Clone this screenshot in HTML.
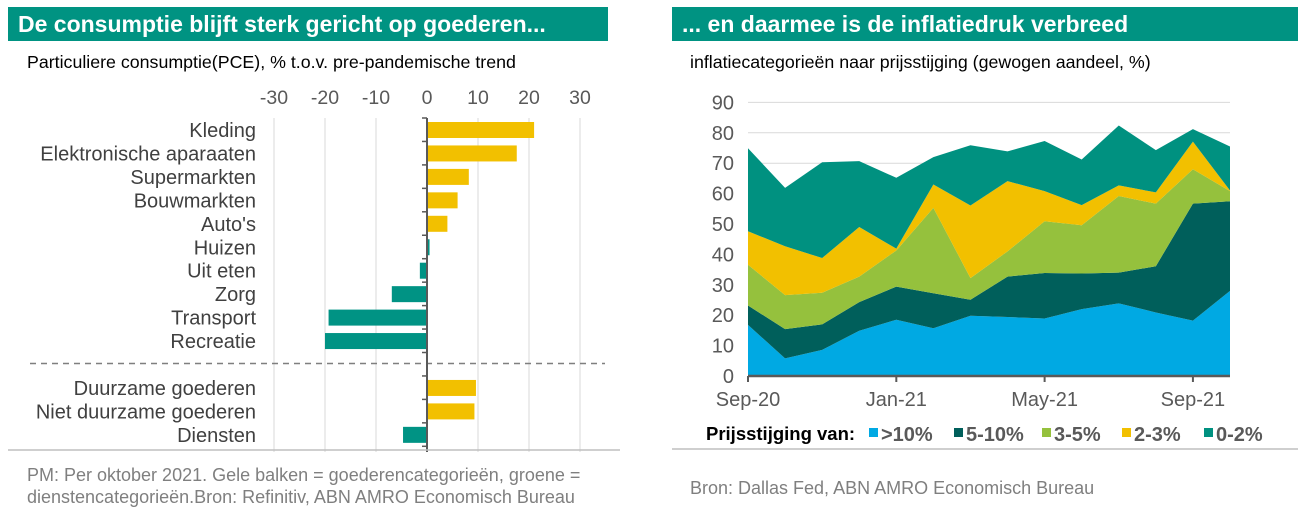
<!DOCTYPE html>
<html><head><meta charset="utf-8"><style>
body{margin:0;width:1306px;height:517px;background:#fff;font-family:"Liberation Sans",sans-serif;overflow:hidden;position:relative}
.hdr{position:absolute;top:7px;height:34px;background:#009382;color:#fff;font-weight:bold;font-size:23px;line-height:34px;padding-left:10px;box-sizing:border-box;white-space:nowrap}
.t{position:absolute;color:#000;font-size:17.8px;white-space:nowrap}
.foot{position:absolute;color:#7f7f7f;font-size:18px;line-height:22px;white-space:nowrap}
</style></head><body>
<div class="hdr" style="left:8px;width:600px">De consumptie blijft sterk gericht op goederen...</div>
<div class="hdr" style="left:672px;width:626px">... en daarmee is de inflatiedruk verbreed</div>
<div class="t" style="left:27px;top:52px">Particuliere consumptie(PCE), % t.o.v. pre-pandemische trend</div>
<div class="t" style="left:690px;top:52px">inflatiecategorieën naar prijsstijging (gewogen aandeel, %)</div>
<div class="foot" style="left:27px;top:464px">PM: Per oktober 2021. Gele balken = goederencategorieën, groene =<br>dienstencategorieën.Bron: Refinitiv, ABN AMRO Economisch Bureau</div>
<div class="foot" style="left:690px;top:477px">Bron: Dallas Fed, ABN AMRO Economisch Bureau</div>
<svg id="c1" width="1306" height="517" style="position:absolute;left:0;top:0"></svg>
<script>
const barCats=["Kleding","Elektronische aparaaten","Supermarkten","Bouwmarkten","Auto's","Huizen","Uit eten","Zorg","Transport","Recreatie","","Duurzame goederen","Niet duurzame goederen","Diensten"];
const barVals=[21,17.6,8.2,6,4,0.5,-1.4,-6.9,-19.3,-20,null,9.6,9.3,-4.7];
const barType=["g","g","g","g","g","s","s","s","s","s",null,"g","g","s"];
const xTicks=[-30,-20,-10,0,10,20,30];

const months=["Sep-20","Oct-20","Nov-20","Dec-20","Jan-21","Feb-21","Mar-21","Apr-21","May-21","Jun-21","Jul-21","Aug-21","Sep-21","Oct-21"];
const sGt10=[16.8,5.8,8.6,14.9,18.5,15.7,19.8,19.4,18.9,22,23.9,20.9,18.2,28];
const s5to10=[6.4,9.6,8.4,9.4,10.9,11.5,5.3,13.3,15,11.7,10.1,15.2,38.5,29.5];
const s3to5=[13.4,11.2,10.4,8.4,11.9,28.1,7.1,8.3,17,15.9,25.2,20.6,11.3,3.3];
const s2to3=[11,16.1,11.4,16.3,0.6,7.7,23.9,23.1,9.9,6.6,3.5,3.7,9.1,0.2];
const s0to2=[27.3,19.2,31.5,21.7,23.3,9,19.8,9.8,16.5,15,19.7,13.9,4.1,14.5];
const seriesNames=[">10%","5-10%","3-5%","2-3%","0-2%"];
const yTicks=[0,10,20,30,40,50,60,70,80,90];
const xLabels=["Sep-20","Jan-21","May-21","Sep-21"];

const NS="http://www.w3.org/2000/svg";
const svg=document.getElementById('c1');
function mk(tag,attrs,txt){const e=document.createElementNS(NS,tag);for(const k in attrs)e.setAttribute(k,attrs[k]);if(txt!==undefined)e.textContent=txt;svg.appendChild(e);return e;}

// left chart
const bx=v=>427+v*5.1;
const rowY=i=>130+i*23.45;
xTicks.forEach(t=>{
  if(t!==0){const g=mk('line',{x1:bx(t),x2:bx(t),y1:118,y2:452,stroke:'#d9d9d9','stroke-width':1});
  }
  const l=mk('text',{x:bx(t),y:104,'text-anchor':'middle','font-size':19.5,fill:'#595959'},String(t));
  
});
barCats.forEach((c,i)=>{
  if(barVals[i]===null){
    const d=mk('line',{x1:30,x2:605,y1:rowY(i)-1,y2:rowY(i)-1,stroke:'#7f7f7f','stroke-width':1.6,'stroke-dasharray':'6,5'});
    
    return;
  }
  const v=barVals[i];
  const r=mk('rect',{x:Math.min(bx(0),bx(v)),y:rowY(i)-8,width:Math.abs(bx(v)-bx(0)),height:16,fill:barType[i]==='g'?'#f2c000':'#009384'});
  
  const l=mk('text',{x:256,y:rowY(i)+7,'text-anchor':'end','font-size':20,fill:'#404040'},c);
  
});
const ax=mk('line',{x1:bx(0),x2:bx(0),y1:118,y2:452,stroke:'#595959','stroke-width':2});

for(let i=0;i<=14;i++){const tk=mk('line',{x1:bx(0)-5,x2:bx(0),y1:118+i*23.45,y2:118+i*23.45,stroke:'#595959','stroke-width':1.5});
}
const bl=mk('line',{x1:8,x2:620,y1:450,y2:450,stroke:'#bfbfbf','stroke-width':1.5});


// right chart
const X0=748,X1=1230;
const ax2=i=>X0+i*(X1-X0)/(months.length-1);
const ay=v=>376-v*3.04;
yTicks.forEach(t=>{
  if(t>0){const g=mk('line',{x1:X0,x2:X1,y1:ay(t),y2:ay(t),stroke:'#d9d9d9','stroke-width':1});
  }
  const l=mk('text',{x:734,y:ay(t)+7,'text-anchor':'end','font-size':20,fill:'#595959'},String(t));
  
});
const series=[sGt10,s5to10,s3to5,s2to3,s0to2];
const colors=['#00a9e3','#005f5b','#95c13d','#f2c000','#009180'];
let base=months.map(()=>0);
series.forEach((s,k)=>{
  const top=base.map((b,i)=>b+s[i]);
  let d='M'+months.map((m,i)=>ax2(i)+','+ay(top[i])).join('L');
  for(let i=months.length-1;i>=0;i--)d+='L'+ax2(i)+','+ay(base[i]);
  const p=mk('path',{d:d+'Z',fill:colors[k]});
  
  base=top;
});
const xa=mk('line',{x1:X0,x2:X1,y1:376,y2:376,stroke:'#595959','stroke-width':2.5});

xLabels.forEach(lb=>{
  const i=months.indexOf(lb);
  const tk=mk('line',{x1:ax2(i),x2:ax2(i),y1:376,y2:382,stroke:'#595959','stroke-width':2});
  
  const l=mk('text',{x:ax2(i),y:406,'text-anchor':'middle','font-size':20,fill:'#595959'},lb);
  
});
const lt=mk('text',{x:706,y:440,'font-size':18.5,'font-weight':'bold',fill:'#000'},'Prijsstijging van:');

const legX=[869,954,1042,1122,1204];
seriesNames.forEach((n,k)=>{
  const r=mk('rect',{x:legX[k],y:428,width:9,height:9,fill:colors[k]});
  
  const t=mk('text',{x:legX[k]+12,y:441,'font-size':20,'font-weight':'bold',fill:'#595959'},n);
  
});
const br=mk('line',{x1:672,x2:1298,y1:449,y2:449,stroke:'#bfbfbf','stroke-width':1.5});

</script>
</body></html>
